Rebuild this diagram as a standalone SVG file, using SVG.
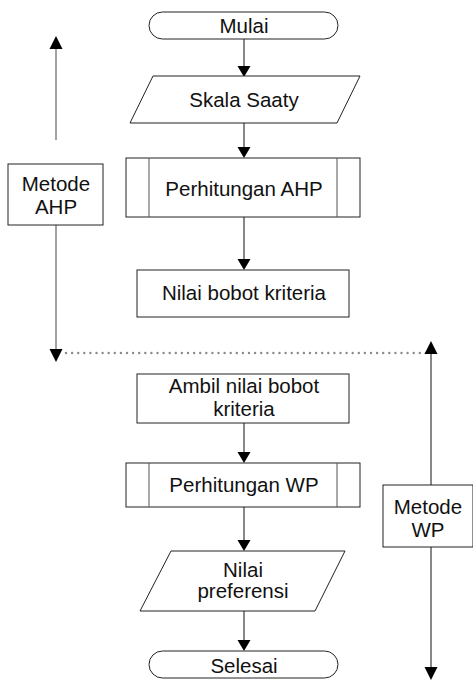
<svg xmlns="http://www.w3.org/2000/svg" width="473" height="684" viewBox="0 0 473 684">
<style>
.shape{fill:#fff;stroke:#222;stroke-width:1}
.inner{stroke:#555;stroke-width:1}
text{font-family:"Liberation Sans",Arial,sans-serif;font-size:20.5px;fill:#111;text-anchor:middle}
.conn{stroke:#111;stroke-width:1;fill:none}
.side{stroke:#666;stroke-width:1.2;fill:none}
.dot{stroke:#8a8a8a;stroke-width:2.4;stroke-linecap:round;stroke-dasharray:0 6.1;fill:none}
.head{fill:#000}
</style>
<rect width="473" height="684" fill="#fff"/>
<g id="connectors">
<line class="conn" x1="244" y1="39" x2="244" y2="66"/>
<polygon class="head" points="237.5,66 250.5,66 244,77"/>
<line class="conn" x1="244" y1="123" x2="244" y2="147"/>
<polygon class="head" points="237.5,147 250.5,147 244,158"/>
<line class="conn" x1="244" y1="217" x2="244" y2="259"/>
<polygon class="head" points="237.5,259 250.5,259 244,270"/>
<line class="conn" x1="244" y1="423" x2="244" y2="452"/>
<polygon class="head" points="237.5,452 250.5,452 244,463"/>
<line class="conn" x1="244" y1="507" x2="244" y2="540"/>
<polygon class="head" points="237.5,540 250.5,540 244,551"/>
<line class="conn" x1="244" y1="611" x2="244" y2="640"/>
<polygon class="head" points="237.5,640 250.5,640 244,651"/>
<line class="side" x1="56" y1="140" x2="56" y2="48"/>
<polygon class="head" points="49.5,49 62.5,49 56,36"/>
<line class="side" x1="56" y1="225" x2="56" y2="350"/>
<polygon class="head" points="49.5,349 62.5,349 56,362"/>
<line class="dot" x1="66" y1="353" x2="426" y2="353"/>
<line class="conn" x1="431" y1="352" x2="431" y2="485"/>
<polygon class="head" points="424.5,354 437.5,354 431,341"/>
<line class="conn" x1="431" y1="547" x2="431" y2="668"/>
<polygon class="head" points="424.5,667 437.5,667 431,680"/>
</g>
<g id="mulai">
<rect class="shape" x="149" y="12" width="189" height="27" rx="13.5"/>
<text x="244" y="33">Mulai</text>
</g>
<g id="skala-saaty">
<polygon class="shape" points="153,76 360,76 337,123 130,123"/>
<text x="244" y="107">Skala Saaty</text>
</g>
<g id="perhitungan-ahp">
<rect class="shape" x="126" y="158" width="234" height="59"/>
<line class="inner" x1="149" y1="158" x2="149" y2="217"/>
<line class="inner" x1="337" y1="158" x2="337" y2="217"/>
<text x="244" y="196">Perhitungan AHP</text>
</g>
<g id="nilai-bobot">
<rect class="shape" x="137" y="270" width="212" height="47"/>
<text x="244" y="300">Nilai bobot kriteria</text>
</g>
<g id="metode-ahp">
<rect class="shape" x="8" y="164" width="95" height="61"/>
<text x="56" y="191">Metode</text>
<text x="56" y="214">AHP</text>
</g>
<g id="ambil-nilai">
<rect class="shape" x="137" y="374" width="212" height="49"/>
<text x="244" y="393">Ambil nilai bobot</text>
<text x="244" y="416">kriteria</text>
</g>
<g id="perhitungan-wp">
<rect class="shape" x="126" y="463" width="234" height="44"/>
<line class="inner" x1="149" y1="463" x2="149" y2="507"/>
<line class="inner" x1="337" y1="463" x2="337" y2="507"/>
<text x="244" y="492">Perhitungan WP</text>
</g>
<g id="metode-wp">
<rect class="shape" x="383" y="485" width="90" height="62"/>
<text x="428" y="514">Metode</text>
<text x="428" y="537">WP</text>
</g>
<g id="nilai-preferensi">
<polygon class="shape" points="171,551 345,551 315,611 140,611"/>
<text x="243" y="577">Nilai</text>
<text x="243" y="598">preferensi</text>
</g>
<g id="selesai">
<rect class="shape" x="149" y="651" width="189" height="27" rx="13.5"/>
<text x="244" y="673">Selesai</text>
</g>
</svg>
